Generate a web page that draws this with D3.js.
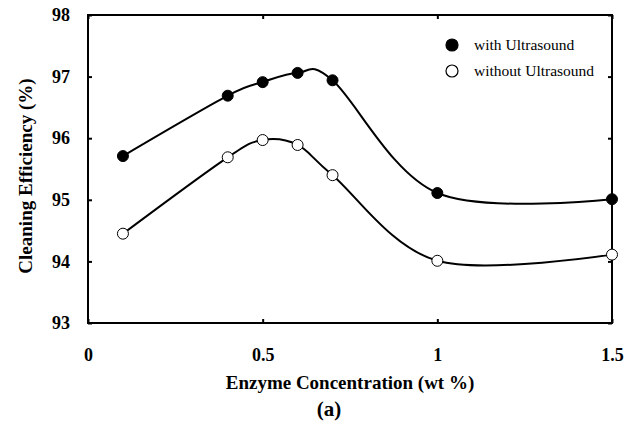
<!DOCTYPE html>
<html>
<head>
<meta charset="utf-8">
<script src="https://cdn.jsdelivr.net/npm/d3@7"></script>
<style>
body { margin: 0; background: #fff; }
text { font-family: "Liberation Serif", "Times New Roman", serif; }
</style>
</head>
<body>
<div id="chart"></div>
<script>
var width = 637,
height = 425;

// data
var concentration = [0.1, 0.4, 0.5, 0.6, 0.7, 1.0, 1.5];
var withUltrasound = [95.71, 96.69, 96.91, 97.06, 96.94, 95.11, 95.01];
var withoutUltrasound = [94.45, 95.69, 95.97, 95.89, 95.40, 94.01, 94.11];
var xTicks = [0, 0.5, 1, 1.5];
var yTicks = [93, 94, 95, 96, 97, 98];
var seriesNames = ["with Ultrasound", "without Ultrasound"];

var plotLeft = 88, plotRight = 612, plotTop = 15, plotBottom = 323;

var svg = d3.select('#chart').append('svg')
    .attr('width', width)
    .attr('height', height);

let scaleX = d3.scaleLinear().domain([0, 1.5]).range([plotLeft, plotRight]);
let scaleY = d3.scaleLinear().domain([93, 98]).range([plotBottom, plotTop]);

// frame
svg.append('rect')
    .attr('x', plotLeft).attr('y', plotTop)
    .attr('width', plotRight - plotLeft).attr('height', plotBottom - plotTop)
    .attr('fill', 'none').attr('stroke', 'black').attr('stroke-width', 2);

// axes with inward ticks
var axisLeft = d3.axisLeft(scaleY).tickValues(yTicks).tickSize(-4).tickPadding(18).tickFormat(d3.format('d'));
var axisRight = d3.axisRight(scaleY).tickValues(yTicks).tickSize(-4).tickFormat('');
var axisBottom = d3.axisBottom(scaleX).tickValues(xTicks).tickSize(-4).tickPadding(25)
    .tickFormat(function(d) { return d === 0 ? '0' : d3.format('')(d); });
var axisTop = d3.axisTop(scaleX).tickValues(xTicks).tickSize(-4).tickFormat('');

function styleAxis(g) {
    g.select('.domain').remove();
    g.selectAll('.tick line').attr('stroke', 'black').attr('stroke-width', 2);
    g.selectAll('.tick text')
        .attr('fill', 'black')
        .style('font-family', '"Liberation Serif", serif')
        .style('font-size', '18px')
        .style('font-weight', 'bold');
}

svg.append('g').attr('transform', 'translate(' + plotLeft + ',0)').call(axisLeft).call(styleAxis);
svg.append('g').attr('transform', 'translate(' + plotRight + ',0)').call(axisRight).call(styleAxis);
svg.append('g').attr('transform', 'translate(0,' + plotBottom + ')').call(axisBottom).call(styleAxis);
svg.append('g').attr('transform', 'translate(0,' + plotTop + ')').call(axisTop).call(styleAxis);

// smoothed lines
var lineFunc = d3.line()
    .x(function(d) { return scaleX(d.x); })
    .y(function(d) { return scaleY(d.y); })
    .curve(d3.curveCardinal.tension(0));

var series = [withUltrasound, withoutUltrasound].map(function(vals, i) {
    return {
        name: seriesNames[i],
        fill: i === 0 ? 'black' : 'white',
        points: concentration.map(function(c, j) { return { x: c, y: vals[j] }; })
    };
});

series.forEach(function(s) {
    svg.append('path')
        .datum(s.points)
        .attr('d', lineFunc)
        .attr('fill', 'none')
        .attr('stroke', 'black')
        .attr('stroke-width', 2);
});

series.forEach(function(s) {
    svg.selectAll(null).data(s.points).enter().append('circle')
        .attr('cx', d => scaleX(d.x))
        .attr('cy', d => scaleY(d.y))
        .attr('r', 5.5)
        .attr('fill', s.fill)
        .attr('stroke', 'black')
        .attr('stroke-width', 1);
});

// legend
var legend = svg.append('g');
series.forEach(function(s, i) {
    var y = 45 + i * 26;
    legend.append('circle')
        .attr('cx', 452).attr('cy', y).attr('r', 6)
        .attr('fill', s.fill).attr('stroke', 'black').attr('stroke-width', 1.2);
    legend.append('text')
        .attr('x', 474).attr('y', y + 5)
        .style('font-size', '15.5px')
        .text(s.name);
});

// titles
svg.append('text')
    .attr('x', 350).attr('y', 389)
    .attr('text-anchor', 'middle')
    .style('font-size', '19px').style('font-weight', 'bold')
    .text('Enzyme Concentration (wt %)');

svg.append('text')
    .attr('x', 329).attr('y', 416)
    .attr('text-anchor', 'middle')
    .style('font-size', '21px').style('font-weight', 'bold')
    .text('(a)');

svg.append('text')
    .attr('transform', 'translate(32,176) rotate(-90)')
    .attr('text-anchor', 'middle')
    .style('font-size', '19px').style('font-weight', 'bold')
    .text('Cleaning Efficiency (%)');
</script>
</body>
</html>
